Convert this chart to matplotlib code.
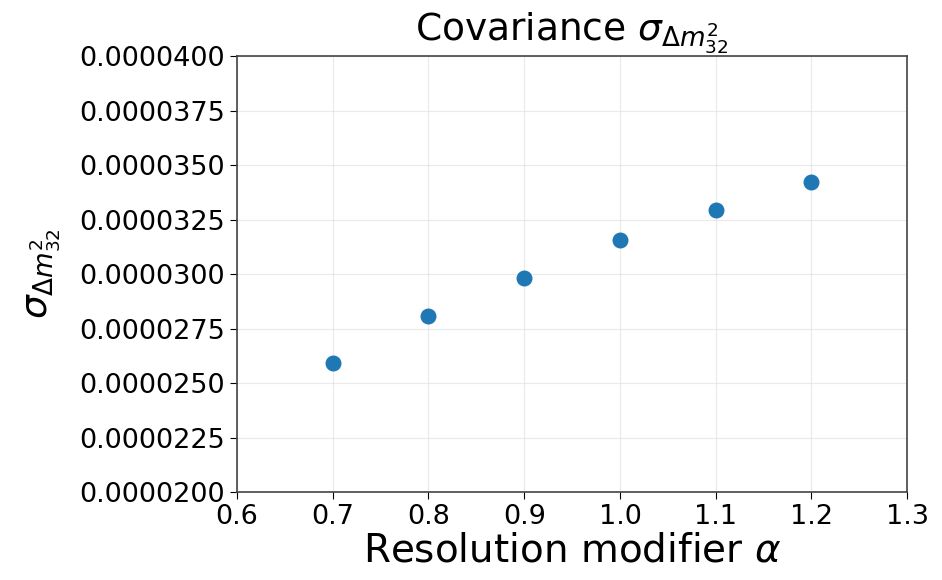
import numpy as np
import matplotlib
matplotlib.use('Agg')
import matplotlib.pyplot as plt
from matplotlib.ticker import FormatStrFormatter

# resolution modifier and fitted sigma of delta m^2_32
alpha = [0.7, 0.8, 0.9, 1.0, 1.1, 1.2]
sigma_dm32 = [2.594e-5, 2.806e-5, 2.980e-5, 3.156e-5, 3.294e-5, 3.423e-5]

x_ticks = [0.6, 0.7, 0.8, 0.9, 1.0, 1.1, 1.2, 1.3]
y_ticks = [0.00002, 0.0000225, 0.000025, 0.0000275, 0.00003,
           0.0000325, 0.000035, 0.0000375, 0.00004]

fig = plt.figure(figsize=(9.42, 5.8), dpi=100)
ax = fig.add_axes([0.2516, 0.1517, 0.7114, 0.7517])
ax.scatter(alpha, sigma_dm32, s=110, color='tab:blue', zorder=3)

ax.set_xlim(0.6, 1.3)
ax.set_ylim(0.00002, 0.00004)
ax.set_xticks(x_ticks)
ax.set_yticks(y_ticks)
ax.yaxis.set_major_formatter(FormatStrFormatter('%.7f'))
ax.xaxis.set_major_formatter(FormatStrFormatter('%.1f'))
ax.tick_params(labelsize=19.5, length=5)
ax.grid(True, color='#dddddd', alpha=0.6, linewidth=0.8)
for sp in ax.spines.values():
    sp.set_color('#444444')
    sp.set_linewidth(1.2)

ax.set_title(r'Covariance $\sigma_{\Delta m^2_{32}}$', fontsize=27, pad=3)
ax.set_xlabel(r'Resolution modifier $\alpha$', fontsize=28, labelpad=1)
ax.set_ylabel(r'$\sigma_{\Delta m^2_{32}}$', fontsize=27, labelpad=12)

fig.savefig('out.png', dpi=100)
